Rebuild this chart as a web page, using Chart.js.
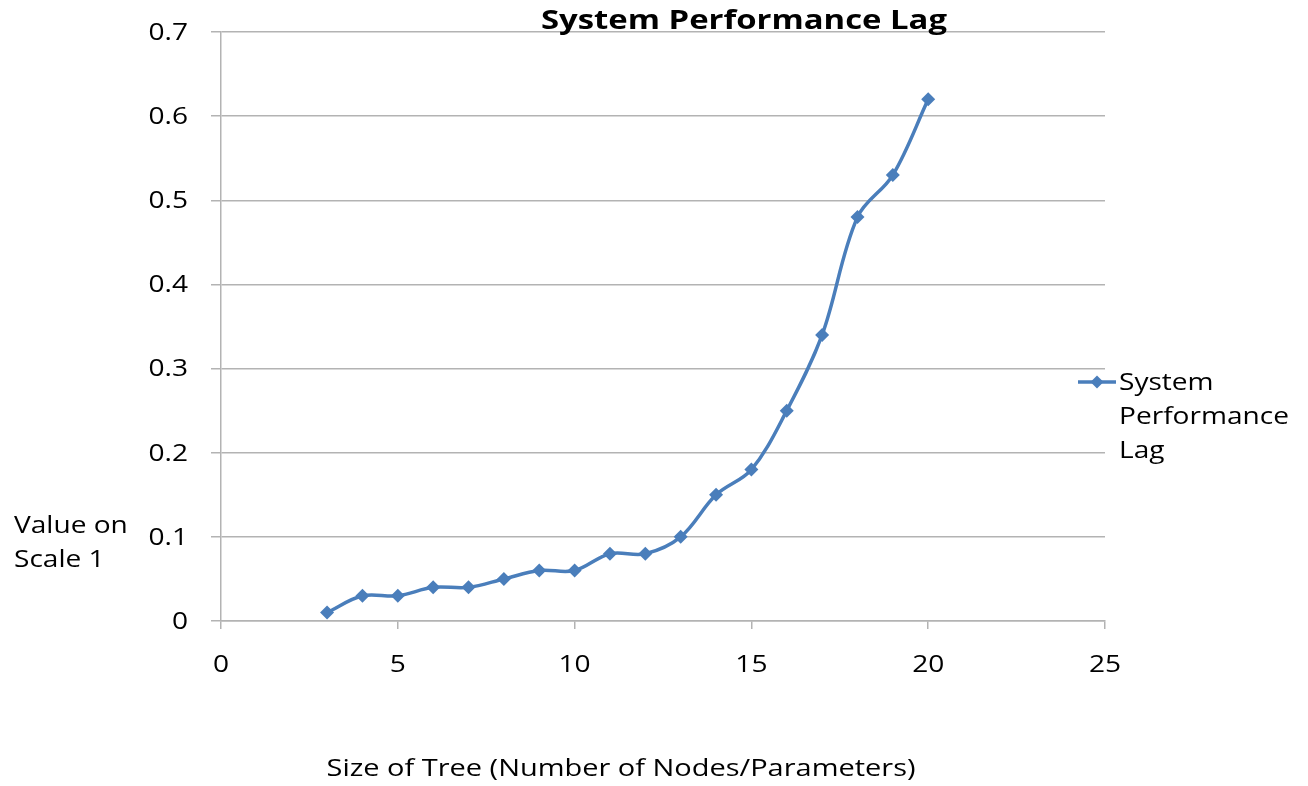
<!DOCTYPE html>
<html>
<head>
<meta charset="utf-8">
<script src="https://cdn.jsdelivr.net/npm/chart.js@4/dist/chart.umd.min.js"></script>
<style>
  html, body { margin: 0; padding: 0; background: #fff; }
  #wrap { width: 1308px; height: 786px; position: relative; }
</style>
</head>
<body>
<div id="wrap"><canvas id="c" width="1308" height="786"></canvas></div>
<script>
// Tree size (x) and measured lag (y)
const treeSizes = [3, 4, 5, 6, 7, 8, 9, 10, 11, 12, 13, 14, 15, 16, 17, 18, 19, 20];
const lagValues = [0.01, 0.03, 0.03, 0.04, 0.04, 0.05, 0.06, 0.06, 0.08, 0.08, 0.10, 0.15, 0.18, 0.25, 0.34, 0.48, 0.53, 0.62];
const xTicks = [0, 5, 10, 15, 20, 25];
const yTicks = [0, 0.1, 0.2, 0.3, 0.4, 0.5, 0.6, 0.7];

const seriesName = 'System Performance Lag';
const chartTitle = 'System Performance Lag';
const xTitle = 'Size of Tree (Number of Nodes/Parameters)';
const yTitleLines = ['Value on', 'Scale 1'];
const legendLines = ['System', 'Performance', 'Lag'];

const FONT = "'Open Sans', 'DejaVu Sans', sans-serif";
const TEXT_SIZE = 24;
const TEXT_STRETCH = 1.17;   // labels are set slightly wide
const LINE_COLOR = '#4A7EBB';
const GRID_COLOR = '#B3B3B3';

const points = treeSizes.map((x, i) => ({ x: x, y: lagValues[i] }));

// draw text horizontally stretched by sx, anchored at (x, y)
function wideText(ctx, text, x, y, align, sx) {
  const w = ctx.measureText(text).width * sx;
  let left = x;
  if (align === 'center') left = x - w / 2;
  else if (align === 'right') left = x - w;
  ctx.save();
  ctx.translate(left, y);
  ctx.scale(sx, 1);
  ctx.textAlign = 'left';
  ctx.fillText(text, 0, 0);
  ctx.restore();
}

// Tick labels, title, axis titles and the wrapped legend entry
const decorations = {
  id: 'decorations',
  afterDraw(chart) {
    const ctx = chart.ctx;
    const xs = chart.scales.x;
    const ys = chart.scales.y;
    ctx.save();
    ctx.fillStyle = '#000';
    ctx.textBaseline = 'middle';

    ctx.font = TEXT_SIZE + "px " + FONT;
    xTicks.forEach(v => wideText(ctx, String(v), xs.getPixelForValue(v), xs.top + 44, 'center', TEXT_STRETCH));
    yTicks.forEach(v => wideText(ctx, String(Math.round(v * 10) / 10), ys.left + 188, ys.getPixelForValue(v) + 1, 'right', TEXT_STRETCH));

    const xtw = ctx.measureText(xTitle).width;
    wideText(ctx, xTitle, 621, 769, 'center', 589 / xtw);
    yTitleLines.forEach((t, i) => wideText(ctx, t, 14, 526 + i * 34, 'left', TEXT_STRETCH));

    // legend
    const ly = 382;
    ctx.strokeStyle = LINE_COLOR;
    ctx.lineWidth = 3.5;
    ctx.beginPath();
    ctx.moveTo(1078, ly);
    ctx.lineTo(1116, ly);
    ctx.stroke();
    ctx.fillStyle = LINE_COLOR;
    ctx.beginPath();
    ctx.moveTo(1097, ly - 6.5);
    ctx.lineTo(1103.5, ly);
    ctx.lineTo(1097, ly + 6.5);
    ctx.lineTo(1090.5, ly);
    ctx.closePath();
    ctx.fill();
    ctx.fillStyle = '#000';
    legendLines.forEach((t, i) => wideText(ctx, t, 1119, ly + 1 + i * 34, 'left', TEXT_STRETCH));

    ctx.font = "bold 27px " + FONT;
    const tw = ctx.measureText(chartTitle).width;
    wideText(ctx, chartTitle, 744, 21, 'center', 406 / tw);
    ctx.restore();
  }
};

new Chart(document.getElementById('c'), {
  type: 'line',
  data: {
    datasets: [{
      label: seriesName,
      data: points,
      borderColor: LINE_COLOR,
      backgroundColor: LINE_COLOR,
      borderWidth: 3.5,
      tension: 0.35,
      pointStyle: 'rectRot',
      pointRadius: 7,
      pointHoverRadius: 7,
      pointBorderWidth: 0,
      fill: false
    }]
  },
  options: {
    responsive: false,
    animation: false,
    events: [],
    layout: { padding: { left: 0, top: 32, right: 203, bottom: 0 } },
    plugins: {
      legend: { display: false },
      title: { display: false },
      tooltip: { enabled: false }
    },
    scales: {
      x: {
        type: 'linear',
        min: 0,
        max: 25,
        afterBuildTicks(scale) { scale.ticks = xTicks.map(v => ({ value: v })); },
        afterFit(scale) { scale.height = 165; },
        grid: {
          drawOnChartArea: false,
          drawTicks: true,
          tickLength: 8,
          color: GRID_COLOR,
          lineWidth: 1.5
        },
        border: { display: true, color: GRID_COLOR, width: 1.5 },
        ticks: { display: false }
      },
      y: {
        type: 'linear',
        min: 0,
        max: 0.7,
        afterBuildTicks(scale) { scale.ticks = yTicks.map(v => ({ value: v })); },
        afterFit(scale) { scale.width = 221; },
        grid: {
          color: GRID_COLOR,
          lineWidth: 1.5,
          drawTicks: true,
          tickLength: 10
        },
        border: { display: true, color: GRID_COLOR, width: 1.5 },
        ticks: { display: false }
      }
    }
  },
  plugins: [decorations]
});
</script>
</body>
</html>
